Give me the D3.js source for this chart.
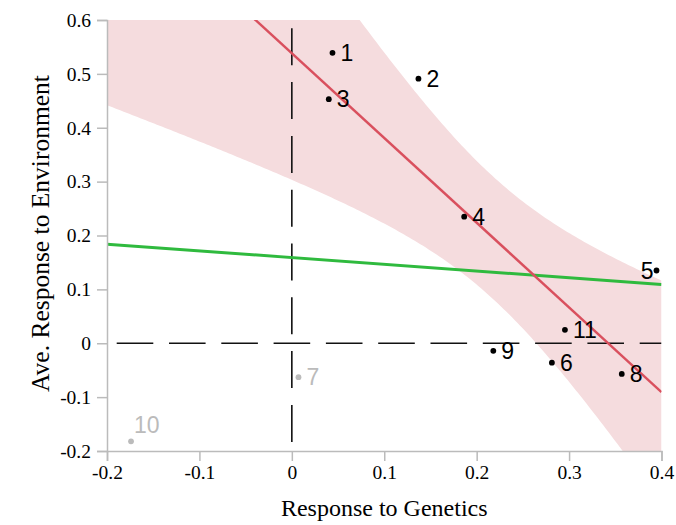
<!DOCTYPE html>
<html>
<head>
<meta charset="utf-8">
<script src="https://cdn.jsdelivr.net/npm/d3@7"></script>
<style>
  html, body { margin: 0; padding: 0; background: #fff; }
  svg { display: block; }
</style>
</head>
<body>
<svg id="chart" width="676" height="525"></svg>
<script>
// Observations: response to genetics (x) vs average response to environment (y)
const pointIds    = [1, 2, 3, 4, 5, 6, 7, 8, 9, 10, 11];
const genetics    = [0.044, 0.137, 0.040, 0.1865, 0.3946, 0.2814, 0.0072, 0.357, 0.218, -0.174, 0.2955];
const environment = [0.539, 0.491, 0.453, 0.235, 0.135, -0.036, -0.063, -0.057, -0.014, -0.182, 0.025];
// Points left out of the main (red) fit, drawn in grey
const excludedIds = [7, 10];

const xTicks = [-0.2, -0.1, 0, 0.1, 0.2, 0.3, 0.4];
const yTicks = [-0.2, -0.1, 0, 0.1, 0.2, 0.3, 0.4, 0.5, 0.6];
const xTitle = "Response to Genetics";
const yTitle = "Ave. Response to Environment";

// two-sided 95% t quantile for 7 degrees of freedom (9 points, 2 parameters)
const T_CRIT = 2.365;

const W = 676, H = 525;
const margin = { top: 20, right: 14.5, bottom: 74, left: 107 };
const svg = d3.select("#chart");

const x = d3.scaleLinear().domain([-0.2, 0.4]).range([margin.left, W - margin.right]);
const y = d3.scaleLinear().domain([-0.2, 0.6]).range([H - margin.bottom, margin.top]);

const points = pointIds.map((id, i) => ({
  id, gx: genetics[i], ey: environment[i], excluded: excludedIds.includes(id)
}));

// ordinary least squares fit, with what is needed for the confidence band
function olsFit(pts) {
  const n = pts.length;
  const mx = d3.mean(pts, p => p.gx), my = d3.mean(pts, p => p.ey);
  const sxx = d3.sum(pts, p => (p.gx - mx) ** 2);
  const sxy = d3.sum(pts, p => (p.gx - mx) * (p.ey - my));
  const slope = sxy / sxx, intercept = my - slope * mx;
  const sse = d3.sum(pts, p => (p.ey - (intercept + slope * p.gx)) ** 2);
  const s = Math.sqrt(sse / (n - 2));
  return { n, mx, sxx, slope, intercept, s,
    predict: v => intercept + slope * v,
    half: v => T_CRIT * s * Math.sqrt(1 / n + (v - mx) ** 2 / sxx) };
}

const fitMain = olsFit(points.filter(p => !p.excluded));
const fitAll = olsFit(points);

svg.append("defs").append("clipPath").attr("id", "plot-clip")
  .append("rect")
  .attr("x", margin.left).attr("y", margin.top)
  .attr("width", W - margin.left - margin.right)
  .attr("height", H - margin.top - margin.bottom);

const plot = svg.append("g").attr("clip-path", "url(#plot-clip)");

// 95% confidence band of the main fit
const xs = d3.range(0, 201).map(i => -0.2 + i * 0.6 / 200);
plot.append("path")
  .datum(xs)
  .attr("fill", "#f5dcde")
  .attr("d", d3.area()
    .x(v => x(v))
    .y0(v => y(fitMain.predict(v) - fitMain.half(v)))
    .y1(v => y(fitMain.predict(v) + fitMain.half(v))));

// reference lines at zero
plot.append("line")
  .attr("x1", x(-0.2)).attr("x2", x(0.4))
  .attr("y1", y(0)).attr("y2", y(0))
  .attr("stroke", "#111").attr("stroke-width", 1.6)
  .attr("stroke-dasharray", "36.6,15.7").attr("stroke-dashoffset", 42.6);
plot.append("line")
  .attr("x1", x(0)).attr("x2", x(0))
  .attr("y1", y(0.6)).attr("y2", y(-0.2))
  .attr("stroke", "#111").attr("stroke-width", 1.6)
  .attr("stroke-dasharray", "37,16.8").attr("stroke-dashoffset", 45.5);

// fit over all points (green) and the main fit (red)
plot.append("path")
  .datum([-0.2, 0.4])
  .attr("fill", "none").attr("stroke", "#2fba3e").attr("stroke-width", 3)
  .attr("d", d3.line().x(v => x(v)).y(v => y(fitAll.predict(v))));
plot.append("path")
  .datum([-0.2, 0.4])
  .attr("fill", "none").attr("stroke", "#d9505e").attr("stroke-width", 2.5)
  .attr("d", d3.line().x(v => x(v)).y(v => y(fitMain.predict(v))));

// points and their labels
const pg = svg.append("g");
pg.selectAll("circle").data(points).join("circle")
  .attr("cx", d => x(d.gx)).attr("cy", d => y(d.ey)).attr("r", 2.9)
  .attr("fill", d => d.excluded ? "#bbbbbb" : "#000");

// labels sit right of their dot, except near the right edge (left) and the bottom edge (raised)
function labelPlacement(d) {
  if (x(d.gx) > W - margin.right - 20) return { dx: -3, dy: 0, anchor: "end" };
  if (y(d.ey) > H - margin.bottom - 20) return { dx: 3, dy: -17, anchor: "start" };
  return { dx: 8, dy: 0, anchor: "start" };
}
pg.selectAll("text").data(points).join("text")
  .attr("x", d => x(d.gx) + labelPlacement(d).dx)
  .attr("y", d => y(d.ey) + labelPlacement(d).dy)
  .attr("dy", "0.36em")
  .attr("text-anchor", d => labelPlacement(d).anchor)
  .attr("font-family", "'Liberation Sans', Arial, sans-serif")
  .attr("font-size", 23)
  .attr("fill", d => d.excluded ? "#bbbbbb" : "#000")
  .text(d => d.id);

// axes
const fmt = v => (Math.abs(v) < 1e-9 ? "0" : v.toFixed(1));
const xAxis = svg.append("g")
  .attr("transform", `translate(0,${y(-0.2)})`)
  .call(d3.axisBottom(x).tickValues(xTicks).tickFormat(fmt).tickSize(10).tickSizeOuter(10).tickPadding(4));
const yAxis = svg.append("g")
  .attr("transform", `translate(${x(-0.2)},0)`)
  .call(d3.axisLeft(y).tickValues(yTicks).tickFormat(fmt).tickSize(10).tickSizeOuter(10).tickPadding(6));

[xAxis, yAxis].forEach(g => {
  g.selectAll("path, line").attr("stroke", "#bbbbbb").attr("stroke-width", 1.5);
  g.selectAll("text")
    .attr("font-family", "'Liberation Serif', 'Times New Roman', serif")
    .attr("font-size", 19.5).attr("fill", "#000");
});

svg.append("text")
  .attr("x", (x(-0.2) + x(0.4)) / 2).attr("y", 516)
  .attr("text-anchor", "middle")
  .attr("font-family", "'Liberation Serif', 'Times New Roman', serif")
  .attr("font-size", 24).attr("fill", "#000")
  .text(xTitle);
svg.append("text")
  .attr("transform", `translate(49,${(y(-0.2) + y(0.6)) / 2 - 2}) rotate(-90)`)
  .attr("text-anchor", "middle")
  .attr("font-family", "'Liberation Serif', 'Times New Roman', serif")
  .attr("font-size", 25.5).attr("fill", "#000")
  .text(yTitle);
</script>
</body>
</html>
